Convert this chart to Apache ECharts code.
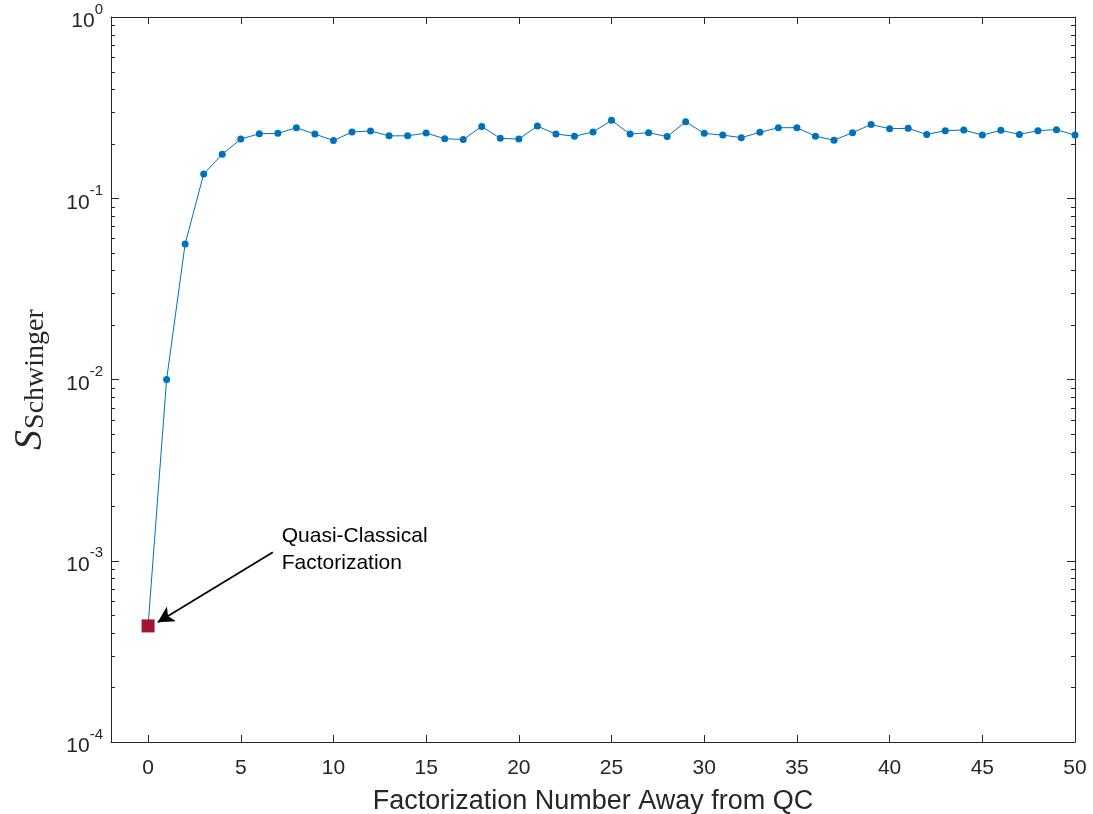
<!DOCTYPE html>
<html>
<head>
<meta charset="utf-8">
<script src="https://cdn.jsdelivr.net/npm/echarts@6/dist/echarts.min.js"></script>
<style>
html, body { margin: 0; padding: 0; background: #fff; }
#main { width: 1093px; height: 814px; }
</style>
</head>
<body>
<div id="main"></div>
<script>
// factorization index away from the quasi-classical one
var factIdx = [];
for (var k = 0; k <= 50; k++) factIdx.push(k);

// S_Schwinger
var sValues = [
    4.37e-4, 0.0100, 0.056, 0.136, 0.175, 0.212, 0.227, 0.228, 0.245, 0.226,
    0.208, 0.232, 0.235, 0.221, 0.221, 0.229, 0.213, 0.211, 0.249, 0.214,
    0.212, 0.250, 0.226, 0.220, 0.232, 0.269, 0.226, 0.230, 0.219, 0.264,
    0.228, 0.223, 0.216, 0.231, 0.245, 0.245, 0.220, 0.209, 0.230, 0.255,
    0.242, 0.243, 0.225, 0.236, 0.238, 0.223, 0.237, 0.225, 0.236, 0.239,
    0.223
];

// the quasi-classical point
var qcPoint = [0, 4.37e-4];

var xTicks = [0, 5, 10, 15, 20, 25, 30, 35, 40, 45, 50];
var yDecades = [1e-4, 1e-3, 1e-2, 1e-1, 1];
var minorMult = [2, 3, 4, 5, 6, 7, 8, 9];

// annotation: arrow tail / head and text anchor, in data units
var arrowTail = [6.73, 1.113e-3];
var arrowHead = [0.52, 4.58e-4];
var noteAnchor = [7.21, 1.153e-3];
var noteText = 'Quasi-Classical\nFactorization';

var AX = '#262626';
var FONT = '"Liberation Sans", Arial, Helvetica, sans-serif';
var SERIF = '"Liberation Serif", "DejaVu Serif", serif';

var chart = echarts.init(document.getElementById('main'));

function expLabel(v) {
    var e = Math.round(Math.log(v) / Math.LN10);
    return '{b|10}{s|' + e + '}';
}

var lineData = factIdx.map(function (x, i) { return [x, sValues[i]]; });

var option = {
    backgroundColor: '#fff',
    animation: false,
    grid: { left: 111, right: 18, top: 17, bottom: 72, show: false, containLabel: false, outerBoundsMode: 'none' },
    xAxis: [{
        type: 'value',
        min: -2,
        max: 50,
        name: 'Factorization Number Away from QC',
        nameLocation: 'middle',
        nameGap: 46,
        nameTextStyle: { fontFamily: FONT, fontSize: 27, color: AX },
        axisLine: { show: true, onZero: false, lineStyle: { color: AX, width: 1 } },
        axisTick: { show: true, inside: true, length: 7, customValues: xTicks, lineStyle: { color: AX } },
        axisLabel: { customValues: xTicks, fontFamily: FONT, fontSize: 21, color: AX, margin: 16 },
        splitLine: { show: false }
    }, {
        type: 'value',
        position: 'top',
        min: -2,
        max: 50,
        axisLine: { show: true, onZero: false, lineStyle: { color: AX, width: 1 } },
        axisTick: { show: true, inside: true, length: 7, customValues: xTicks, lineStyle: { color: AX } },
        axisLabel: { show: false },
        splitLine: { show: false }
    }],
    yAxis: [{
        type: 'log',
        logBase: 10,
        min: 1e-4,
        max: 1,
        name: '{S|S}{sub|Schwinger}',
        nameLocation: 'middle',
        nameRotate: 90,
        nameGap: 61,
        nameTextStyle: {
            rich: {
                S: { fontFamily: SERIF, fontStyle: 'italic', fontSize: 40, color: AX, verticalAlign: 'bottom', lineHeight: 46 },
                sub: { fontFamily: SERIF, fontSize: 28, color: AX, verticalAlign: 'bottom', lineHeight: 34, padding: [0, 0, 0, 1] }
            }
        },
        axisLine: { show: true, onZero: false, lineStyle: { color: AX, width: 1 } },
        axisTick: { show: true, inside: true, length: 8, lineStyle: { color: AX } },
        axisLabel: {
            formatter: expLabel,
            margin: 8,
            rich: {
                b: { fontFamily: FONT, fontSize: 21, color: AX, verticalAlign: 'bottom', lineHeight: 30 },
                s: { fontFamily: FONT, fontSize: 15, color: AX, verticalAlign: 'top', lineHeight: 30 }
            }
        },
        splitLine: { show: false },
        minorTick: { show: false }
    }, {
        type: 'log',
        logBase: 10,
        min: 1e-4,
        max: 1,
        position: 'right',
        axisLine: { show: true, onZero: false, lineStyle: { color: AX, width: 1 } },
        axisTick: { show: true, inside: true, length: 8, lineStyle: { color: AX } },
        axisLabel: { show: false },
        splitLine: { show: false }
    }],
    series: [{
        name: 'S',
        type: 'line',
        data: lineData,
        symbol: 'circle',
        symbolSize: 7,
        lineStyle: { color: '#0072BD', width: 1 },
        itemStyle: { color: '#0072BD' },
        z: 2
    }, {
        name: 'QC',
        type: 'scatter',
        data: [qcPoint],
        symbol: 'rect',
        symbolSize: 13,
        itemStyle: { color: '#A2142F', opacity: 1 },
        z: 5,
        markLine: {
            silent: true,
            symbol: ['none', 'arrow'],
            symbolSize: [13, 16],
            label: { show: false },
            lineStyle: { color: '#000', width: 1.7, type: 'solid' },
            data: [[{ coord: arrowTail }, { coord: arrowHead }]]
        }
    }]
};

chart.setOption(option);

// minor ticks of the log axes (left and right, pointing inward), plus annotation text
function drawExtras() {
    var els = [];
    var xl = chart.convertToPixel({ xAxisIndex: 0 }, -2);
    var xr = chart.convertToPixel({ xAxisIndex: 0 }, 50);
    for (var d = 0; d < yDecades.length - 1; d++) {
        minorMult.forEach(function (m) {
            var py = Math.round(chart.convertToPixel({ yAxisIndex: 0 }, yDecades[d] * m)) + 0.5;
            els.push({ type: 'line', shape: { x1: xl, y1: py, x2: xl + 4, y2: py }, style: { stroke: AX, lineWidth: 1 } });
            els.push({ type: 'line', shape: { x1: xr, y1: py, x2: xr - 4, y2: py }, style: { stroke: AX, lineWidth: 1 } });
        });
    }
    var p = chart.convertToPixel({ xAxisIndex: 0, yAxisIndex: 0 }, noteAnchor);
    els.push({
        type: 'text',
        x: p[0],
        y: p[1],
        style: {
            text: noteText,
            font: '21px ' + FONT,
            fill: '#000',
            align: 'left',
            verticalAlign: 'middle',
            lineHeight: 27
        }
    });
    chart.setOption({ graphic: { elements: els } });
}
drawExtras();
</script>
</body>
</html>
